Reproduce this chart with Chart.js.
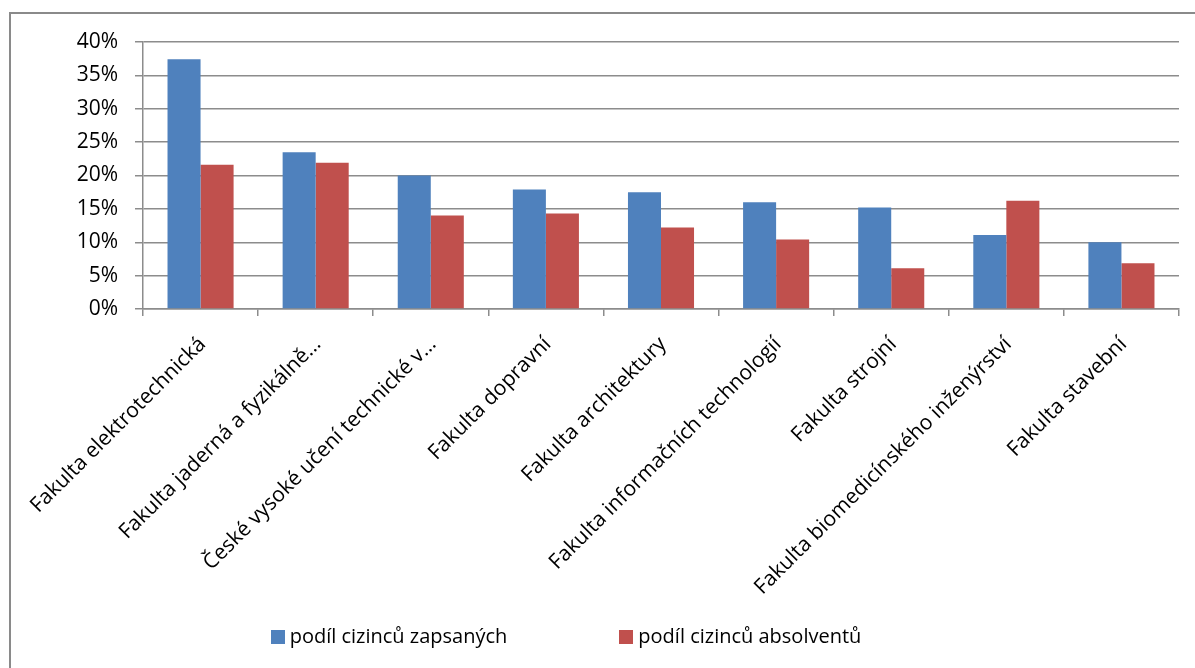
<!DOCTYPE html>
<html lang="cs">

<head>
    <meta charset="UTF-8">
    <title>Podíl cizinců</title>
    <script src="https://cdn.jsdelivr.net/npm/chart.js"></script>
    <style>
        body {
            margin: 0;
            width: 1195px;
            height: 668px;
            overflow: hidden;
            background: #fff;
            font-family: "Open Sans", sans-serif;
            position: relative;
        }

        #frame {
            position: absolute;
            left: 9px;
            top: 12px;
            width: 1400px;
            height: 900px;
            border-left: 2px solid #8a8a8a;
            border-top: 2px solid #8a8a8a;
            pointer-events: none;
        }

        #wrap {
            position: absolute;
            left: 0;
            top: 0;
            width: 1195px;
            height: 668px;
        }

        #legend {
            position: absolute;
            left: 0;
            width: 1132px;
            top: 622px;
            display: flex;
            justify-content: center;
            gap: 112px;
            font-size: 20px;
            line-height: 28px;
            color: #000;
        }

        #legend span.box {
            display: inline-block;
            width: 14px;
            height: 14px;
            margin-right: 5px;
            vertical-align: -1px;
        }
    </style>
</head>

<body>
    <div id="wrap"><canvas id="myChart"></canvas></div>
    <div id="frame"></div>
    <div id="legend"></div>

    <script>
const categories = [
    'Fakulta elektrotechnická',
    'Fakulta jaderná a fyzikálně…',
    'České vysoké učení technické v…',
    'Fakulta dopravní',
    'Fakulta architektury',
    'Fakulta informačních technologií',
    'Fakulta strojní',
    'Fakulta biomedicínského inženýrství',
    'Fakulta stavební'
];

// values in %
const zapsanych = [37.4, 23.5, 20.0, 17.9, 17.5, 16.0, 15.2, 11.1, 10.0];
const absolventu = [21.6, 21.9, 14.0, 14.3, 12.2, 10.4, 6.1, 16.2, 6.85];

const seriesNames = ['podíl cizinců zapsaných', 'podíl cizinců absolventů'];
const seriesColors = ['#4F81BD', '#C0504D'];

const gridColor = '#8c8c8c';

const ctx = document.getElementById('myChart').getContext('2d');
const chart = new Chart(ctx, {
    type: 'bar',
    data: {
        labels: categories,
        datasets: [{
            label: seriesNames[0],
            data: zapsanych,
            backgroundColor: seriesColors[0]
        },
        {
            label: seriesNames[1],
            data: absolventu,
            backgroundColor: seriesColors[1]
        }]
    },
    options: {
        responsive: true,
        maintainAspectRatio: false,
        animation: false,
        categoryPercentage: 0.574,
        barPercentage: 1,
        layout: {
            padding: { left: 0, right: 16, top: 42, bottom: 0 }
        },
        plugins: {
            legend: { display: false },
            tooltip: { enabled: false }
        },
        scales: {
            x: {
                grid: {
                    drawOnChartArea: false,
                    drawTicks: true,
                    tickLength: 7,
                    color: gridColor,
                    lineWidth: 1.5
                },
                border: { color: gridColor, width: 1.5 },
                ticks: {
                    minRotation: 45,
                    maxRotation: 45,
                    autoSkip: false,
                    color: '#000',
                    padding: 16,
                    labelOffset: 2,
                    font: { family: 'Open Sans', size: 21 }
                },
                afterFit: scale => { scale.height = 359; }
            },
            y: {
                min: 0,
                max: 40,
                ticks: {
                    stepSize: 5,
                    color: '#000',
                    padding: 17,
                    font: { family: 'Open Sans', size: 21 },
                    callback: v => v + '%'
                },
                grid: {
                    color: gridColor,
                    lineWidth: 1.5,
                    tickLength: 8
                },
                border: { color: gridColor, width: 1.5 },
                afterFit: scale => { scale.width = 143; }
            }
        }
    }
});

// legend below the chart
const legend = document.getElementById('legend');
chart.data.datasets.forEach(ds => {
    const item = document.createElement('div');
    item.innerHTML = '<span class="box" style="background:' + ds.backgroundColor + '"></span>' + ds.label;
    legend.appendChild(item);
});

    </script>
</body>

</html>
